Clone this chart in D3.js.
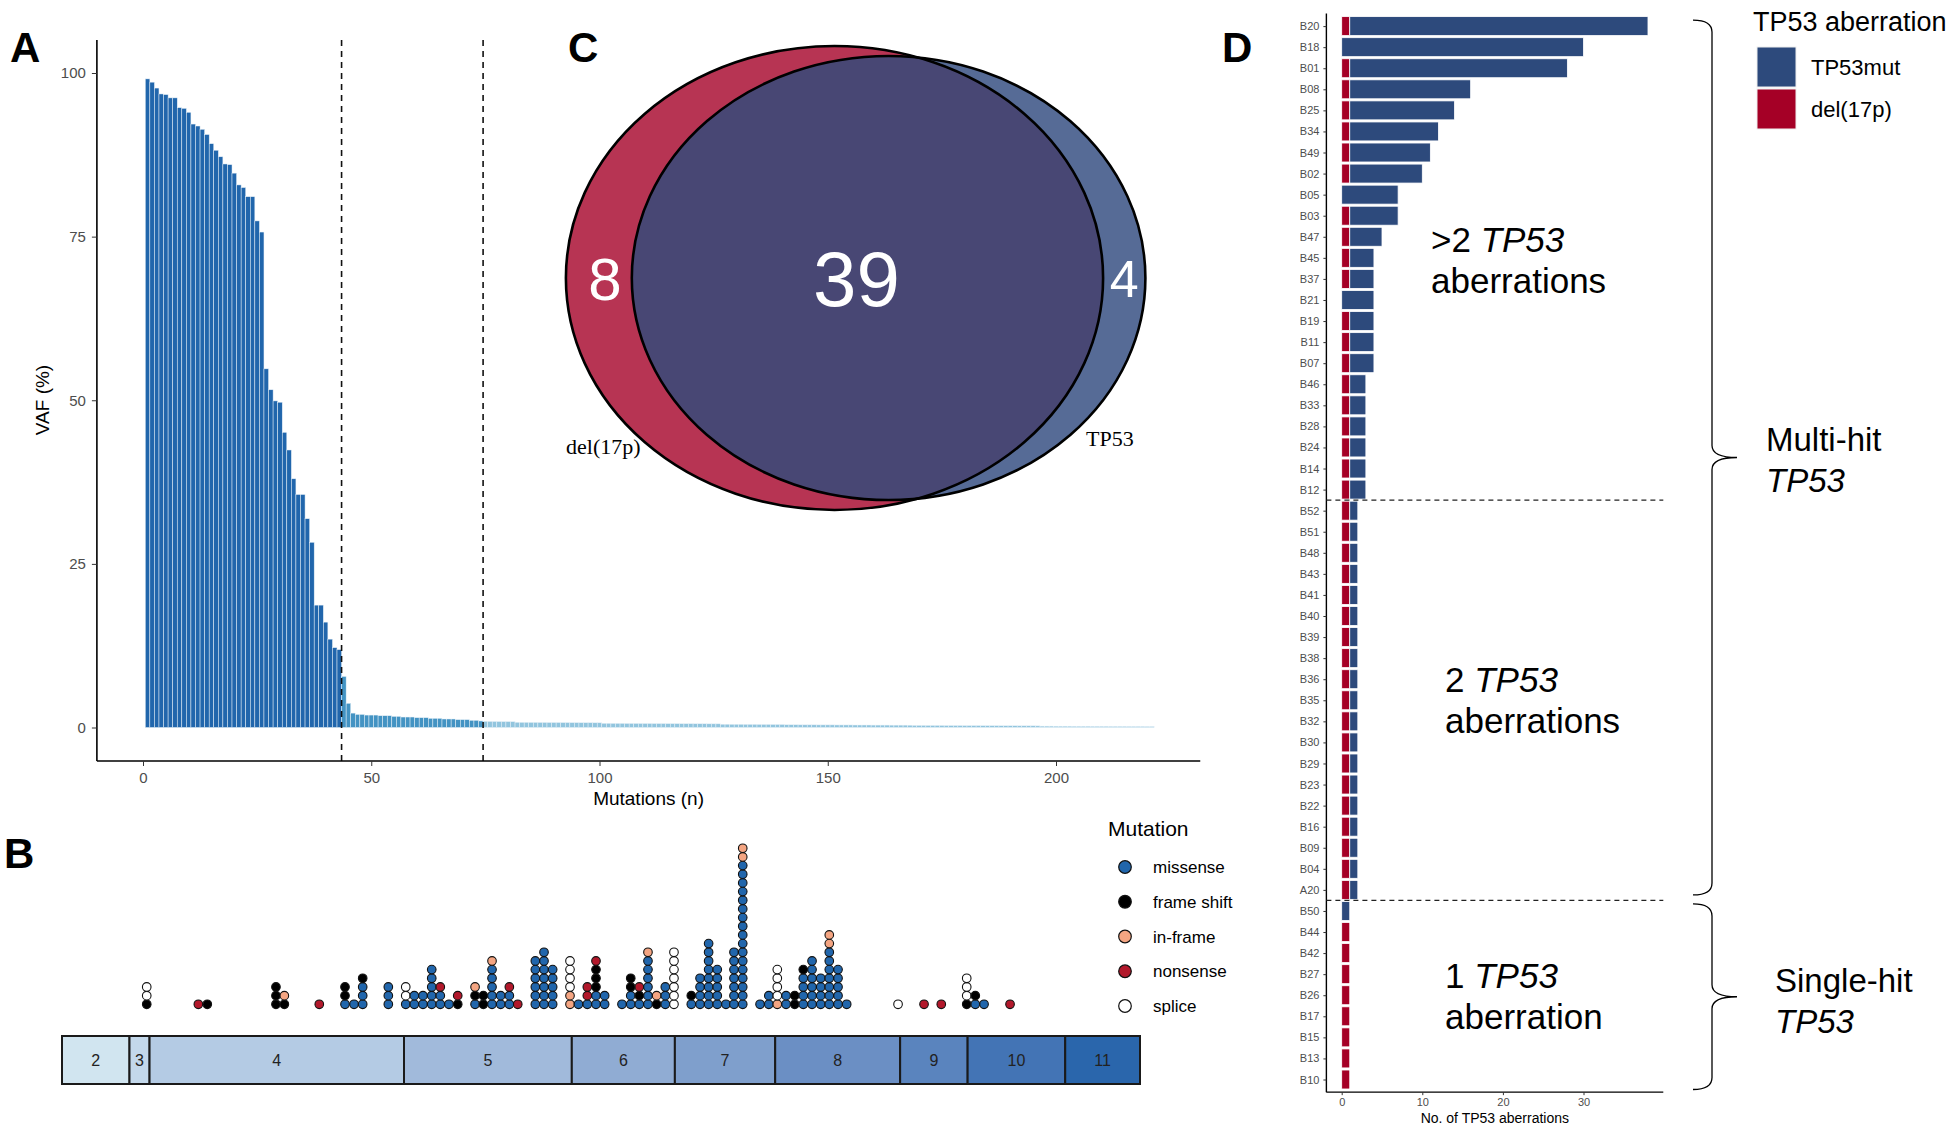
<!DOCTYPE html>
<html><head><meta charset="utf-8">
<script src="https://cdn.jsdelivr.net/npm/d3@7"></script>
<style>
body{margin:0;background:#fff}
svg{display:block;font-family:"Liberation Sans",Arial,Helvetica,sans-serif}
</style>
</head><body>
<svg id="c" width="1950" height="1126"></svg>
<script>
// ================= DATA =================
// Panel A: VAF (%) of each mutation, sorted descending, in three groups
const vafHigh = [99.1,98.6,97.7,96.8,96.7,96.2,96.2,94.7,94.6,94.0,92.2,91.9,91.4,90.6,89.2,88.2,87.2,86.1,86.0,84.7,82.9,82.5,81.1,81.1,77.4,75.7,
  54.8,51.6,49.9,49.7,45.1,42.4,38.0,35.6,35.6,31.9,28.3,18.7,18.7,16.1,13.5,12.2,11.9];
const vafMid = [7.8,3.7,2.2,2.0,2.0,1.9,1.9,1.9,1.8,1.8,1.8,1.7,1.7,1.6,1.6,1.6,1.5,1.5,1.5,1.4,1.4,1.4,1.3,1.3,1.3,1.2,1.2,1.2,1.1,1.1,1.0];
const vafLow = [0.95,0.93,0.92,0.91,0.90,0.90,0.89,
  0.80,0.79,0.79,0.78,0.78,0.77,0.77,0.76,0.76,0.76,0.75,0.75,0.74,0.74,0.73,0.73,0.73,0.72,0.72,
  0.64,0.64,0.63,0.63,0.63,0.62,0.62,0.62,0.61,0.61,0.61,0.60,0.60,0.60,0.59,0.59,0.59,0.58,0.58,0.58,0.57,0.57,0.57,0.56,0.56,0.56,
  0.50,0.50,0.49,0.49,0.49,0.48,0.48,0.48,0.47,0.47,0.47,0.46,0.46,0.46,
  0.42,0.42,0.42,0.41,0.41,0.41,0.41,0.40,0.40,0.40,0.40,0.39,0.39,0.39,0.39,0.38,0.38,0.38,0.38,0.37,0.37,0.37,0.37,0.36,0.36,0.36,0.36,0.35,
  0.32,0.32,0.32,0.31,0.31,0.31,0.31,0.30,0.30,0.30,0.30,0.29,0.29,0.29,0.29,0.28,0.28,0.28,0.28,0.27,0.27,0.27,0.27,0.26,0.26,0.26,0.26,0.25,
  0.21,0.21,0.21,0.20,0.20,0.20,0.20,0.19,0.19,0.19,0.19,0.18,0.18,0.18,0.18,0.17,0.17,0.17,0.17,0.16,0.16,0.16,0.16,0.15,0.15];
const vafTicks = [0,25,50,75,100];
const mutTicks = [0,50,100,150,200];
const vafCutoffs = [43.5,74.5];
const vafGroupColors = ["#2166ac","#4393c3","#92c5de"];

// Panel B: TP53 exons (cDNA coordinates) and mutation dot columns
const exonNames  = ["2","3","4","5","6","7","8","9","10","11"];
const exonStarts = [0,74,96,375,559,672,782,919,993,1100];
const exonEnds   = [74,96,375,559,672,782,919,993,1100,1182];
const exonColors = ["#d1e5f0","#c3d8eb","#b4cbe4","#a1badb","#90acd3","#7f9fcc","#6b8fc4","#5a84be","#4374b5","#2a66ac"];
const mutTypes  = ["missense","frame shift","in-frame","nonsense","splice"];
const mutCodes  = ["m","f","i","n","s"];
const mutColors = ["#2166ac","#000000","#f4a582","#b2182b","#ffffff"];
const dotPositions = [92.9,149.5,159.3,234.6,243.8,282.1,310.3,320.2,329.7,357.8,376.9,386.3,395.8,405.4,414.8,424.3,433.9,452.9,462,471.5,481,490.5,499.7,
  519,528.5,538,557,566.3,576,585.5,595,614,623.6,633,642.5,652,661.5,671,690,699.6,709,718.5,728,736.8,746.4,765.4,775,784.3,793.9,803.4,812.8,822.4,831.9,841.3,850.9,860.4,
  916.7,945.2,964.1,992,1001.4,1011,1039.5];
const dotStacks = ["fss","n","f","fff","fi","n","mff","m","mmmf","mmm","mss","mm","mm","mmmmm","mmn","m","fn","mfi","ff","mmmmmi","mm","mmn","n",
  "mmmmmm","mmmmmmm","mmmmm","iissss","m","mnn","mmfffn","mm","m","mmff","mfn","mmmmmmi","fi","mmm","sssssss","mf","mmmm","mmmmmmmm","mmmmm","m","mmmmmmm",
  "mmmmmmmmmmmmmmmmmii","m","mm","issss","mm","ff","mmmmf","mmmmmm","mmmm","mmmmmmmii","mmmmm","m",
  "s","n","n","fsss","mf","m","n"];

// Panel C: Venn counts
const vennSets = ["del(17p)","TP53"];
const vennCounts = [8,39,4]; // del only, both, TP53 only

// Panel D: patients and aberration counts
const patients = ["B20","B18","B01","B08","B25","B34","B49","B02","B05","B03","B47","B45","B37","B21","B19","B11","B07","B46","B33","B28","B24","B14","B12",
  "B52","B51","B48","B43","B41","B40","B39","B38","B36","B35","B32","B30","B29","B23","B22","B16","B09","B04","A20",
  "B50","B44","B42","B27","B26","B17","B15","B13","B10"];
const del17p  = [1,0,1,1,1,1,1,1,0,1,1,1,1,0,1,1,1,1,1,1,1,1,1,
  1,1,1,1,1,1,1,1,1,1,1,1,1,1,1,1,1,1,1,
  0,1,1,1,1,1,1,1,1];
const tp53mut = [37,30,27,15,13,11,10,9,7,6,4,3,3,4,3,3,3,2,2,2,2,2,2,
  1,1,1,1,1,1,1,1,1,1,1,1,1,1,1,1,1,1,1,
  1,0,0,0,0,0,0,0,0];
const abTicks = [0,10,20,30];
const abKeys = ["TP53mut","del(17p)"];
const abColors = ["#2d4a7c","#a50026"];
const groupBreaks = ["B12","A20"]; // last patient of a group

// ================= DRAW =================
const svg = d3.select("#c");
const tickGrey = "#4d4d4d";

// ---------- Panel A ----------
const xA = d3.scaleLinear().domain([0,200]).range([143,1056]);
const yA = d3.scaleLinear().domain([0,100]).range([727.5,73]);
const xLimA = [-10.1,231.6], yLimA = [-5.12,105.04];
const allVaf = vafHigh.concat(vafMid, vafLow);
const nHigh = vafHigh.length, nMid = vafMid.length;
const unitA = xA(1)-xA(0);
const gA = svg.append("g");
gA.selectAll("rect").data(allVaf).join("rect")
  .attr("x",(d,i)=>xA(i+1)-unitA/2).attr("width",unitA)
  .attr("y",d=>yA(d)).attr("height",d=>yA(0)-yA(d))
  .attr("fill",(d,i)=> i<nHigh ? vafGroupColors[0] : (i<nHigh+nMid ? vafGroupColors[1] : vafGroupColors[2]))
  .attr("stroke","#e8f1f8").attr("stroke-width",0.5);
gA.selectAll("line.cut").data(vafCutoffs).join("line").attr("class","cut")
  .attr("x1",d=>xA(d)).attr("x2",d=>xA(d)).attr("y1",yA(yLimA[1])).attr("y2",yA(yLimA[0]))
  .attr("stroke","#111").attr("stroke-width",1.6).attr("stroke-dasharray","6,5");
// axes
gA.append("line").attr("x1",xA(xLimA[0])).attr("x2",xA(xLimA[0])).attr("y1",yA(yLimA[1])).attr("y2",yA(yLimA[0]))
  .attr("stroke","#000").attr("stroke-width",1.6);
gA.append("line").attr("x1",xA(xLimA[0])).attr("x2",xA(xLimA[1])).attr("y1",yA(yLimA[0])).attr("y2",yA(yLimA[0]))
  .attr("stroke","#000").attr("stroke-width",1.6);
const axAy = gA.append("g").attr("transform",`translate(${xA(xLimA[0])},0)`)
  .call(d3.axisLeft(yA).tickValues(vafTicks).tickSize(5).tickPadding(6));
const axAx = gA.append("g").attr("transform",`translate(0,${yA(yLimA[0])})`)
  .call(d3.axisBottom(xA).tickValues(mutTicks).tickSize(5).tickPadding(6));
[axAy,axAx].forEach(a=>{a.select(".domain").remove();
  a.selectAll("text").attr("font-size",15).attr("fill",tickGrey).attr("font-family","Liberation Sans, Arial");
  a.selectAll("line").attr("stroke","#333");});
gA.append("text").attr("transform","translate(49,400) rotate(-90)").attr("text-anchor","middle")
  .attr("font-size",19).text("VAF (%)");
gA.append("text").attr("x",(xA(xLimA[0])+xA(xLimA[1]))/2).attr("y",805).attr("text-anchor","middle")
  .attr("font-size",19).text("Mutations (n)");

// ---------- Panel C (Venn) ----------
const gC = svg.append("g");
const ellDel = {cx:834.5, cy:278, rx:268.6, ry:232};
const ellTP  = {cx:888.6, cy:278, rx:256.8, ry:222};
const defs = svg.append("defs");
defs.append("clipPath").attr("id","clipDel").append("ellipse")
  .attr("cx",ellDel.cx).attr("cy",ellDel.cy).attr("rx",ellDel.rx).attr("ry",ellDel.ry);
gC.append("ellipse").attr("cx",ellDel.cx).attr("cy",ellDel.cy).attr("rx",ellDel.rx).attr("ry",ellDel.ry).attr("fill","#b73453");
gC.append("ellipse").attr("cx",ellTP.cx).attr("cy",ellTP.cy).attr("rx",ellTP.rx).attr("ry",ellTP.ry).attr("fill","#566b96");
gC.append("ellipse").attr("cx",ellTP.cx).attr("cy",ellTP.cy).attr("rx",ellTP.rx).attr("ry",ellTP.ry)
  .attr("fill","#484774").attr("clip-path","url(#clipDel)");
[ellDel,ellTP].forEach(e=>gC.append("ellipse").attr("cx",e.cx).attr("cy",e.cy).attr("rx",e.rx).attr("ry",e.ry)
  .attr("fill","none").attr("stroke","#000").attr("stroke-width",2.6));
const vennLabelX = [ (ellDel.cx-ellDel.rx + ellTP.cx-ellTP.rx)/2 + 6, (ellTP.cx-ellTP.rx + ellDel.cx+ellDel.rx)/2 - 11, (ellDel.cx+ellDel.rx + ellTP.cx+ellTP.rx)/2 ];
const vennSizes = [60,78,52];
gC.selectAll("text.cnt").data(vennCounts).join("text").attr("class","cnt")
  .attr("x",(d,i)=>vennLabelX[i]).attr("y",(d,i)=>ellDel.cy + vennSizes[i]*0.36)
  .attr("text-anchor","middle").attr("fill","#fff").attr("font-size",(d,i)=>vennSizes[i]).text(d=>d);
gC.append("text").attr("x",566).attr("y",454).attr("font-family","Liberation Serif, Times New Roman, serif")
  .attr("font-size",22).text(vennSets[0]);
gC.append("text").attr("x",1086).attr("y",446).attr("font-family","Liberation Serif, Times New Roman, serif")
  .attr("font-size",22).text(vennSets[1]);

// ---------- Panel B ----------
const xB = d3.scaleLinear().domain([0,1182]).range([62,1140]);
const yB = d3.scaleLinear().domain([0,1]).range([1004.3,995.63]);
const gB = svg.append("g");
const exons = exonNames.map((n,i)=>({n,s:exonStarts[i],e:exonEnds[i],c:exonColors[i]}));
gB.selectAll("rect.ex").data(exons).join("rect").attr("class","ex")
  .attr("x",d=>xB(d.s)).attr("width",d=>xB(d.e)-xB(d.s)).attr("y",1036).attr("height",48)
  .attr("fill",d=>d.c).attr("stroke","#1a1a1a").attr("stroke-width",2);
gB.selectAll("text.ex").data(exons).join("text").attr("class","ex")
  .attr("x",d=>(xB(d.s)+xB(d.e))/2).attr("y",1066).attr("text-anchor","middle")
  .attr("font-size",16).attr("fill","#222").text(d=>d.n);
const dots = [];
dotPositions.forEach((p,j)=>{ [...dotStacks[j]].forEach((ch,k)=>dots.push({p,k,t:mutCodes.indexOf(ch)})); });
gB.selectAll("circle.dot").data(dots).join("circle").attr("class","dot")
  .attr("cx",d=>xB(d.p)).attr("cy",d=>yB(d.k)).attr("r",4.3)
  .attr("fill",d=>mutColors[d.t]).attr("stroke","#111").attr("stroke-width",1.1);
// legend B
const gBL = svg.append("g");
gBL.append("text").attr("x",1108).attr("y",836).attr("font-size",21).text("Mutation");
const legYB = d3.scalePoint().domain(mutTypes).range([867,1006]);
gBL.selectAll("circle").data(mutTypes).join("circle")
  .attr("cx",1125).attr("cy",d=>legYB(d)).attr("r",6.3)
  .attr("fill",(d,i)=>mutColors[i]).attr("stroke","#111").attr("stroke-width",1.2);
gBL.selectAll("text.l").data(mutTypes).join("text").attr("class","l")
  .attr("x",1153).attr("y",d=>legYB(d)+6).attr("font-size",17).text(d=>d);

// ---------- Panel D ----------
const gD = svg.append("g");
const yD = d3.scalePoint().domain(patients).range([26.1,1079.5]);
const stepD = yD.step();
const xD = d3.scaleLinear().domain([0,30]).range([1341.7,1583.5]);
const xLimD = [-1.9,39.9];
const yTopD = yD(patients[0]) - 0.6*stepD, yBotD = yD(patients[patients.length-1]) + 0.6*stepD;
const barH = stepD*0.9;
const rowsD = patients.map((p,i)=>({p,del:del17p[i],mut:tp53mut[i]}));
gD.selectAll("rect.del").data(rowsD.filter(d=>d.del>0)).join("rect").attr("class","del")
  .attr("x",xD(0)).attr("width",d=>xD(d.del)-xD(0)).attr("y",d=>yD(d.p)-barH/2).attr("height",barH)
  .attr("fill",abColors[1]).attr("stroke","#ffffff").attr("stroke-width",0.8);
gD.selectAll("rect.mut").data(rowsD.filter(d=>d.mut>0)).join("rect").attr("class","mut")
  .attr("x",d=>xD(d.del)).attr("width",d=>xD(d.del+d.mut)-xD(d.del)).attr("y",d=>yD(d.p)-barH/2).attr("height",barH)
  .attr("fill",abColors[0]).attr("stroke","#ffffff").attr("stroke-width",0.8);
gD.append("line").attr("x1",xD(xLimD[0])).attr("x2",xD(xLimD[0])).attr("y1",yTopD).attr("y2",yBotD).attr("stroke","#000").attr("stroke-width",1.4);
gD.append("line").attr("x1",xD(xLimD[0])).attr("x2",xD(xLimD[1])).attr("y1",yBotD).attr("y2",yBotD).attr("stroke","#000").attr("stroke-width",1.4);
gD.selectAll("line.brk").data(groupBreaks).join("line").attr("class","brk")
  .attr("x1",xD(xLimD[0])).attr("x2",xD(xLimD[1])).attr("y1",d=>yD(d)+stepD/2).attr("y2",d=>yD(d)+stepD/2)
  .attr("stroke","#222").attr("stroke-width",1.1).attr("stroke-dasharray","5,4");
const axDy = gD.append("g").attr("transform",`translate(${xD(xLimD[0])},0)`).call(d3.axisLeft(yD).tickSize(3).tickPadding(4));
const axDx = gD.append("g").attr("transform",`translate(0,${yBotD})`).call(d3.axisBottom(xD).tickValues(abTicks).tickSize(3).tickPadding(3));
[axDy,axDx].forEach(a=>{a.select(".domain").remove();
  a.selectAll("text").attr("font-size",11).attr("fill",tickGrey).attr("font-family","Liberation Sans, Arial");
  a.selectAll("line").attr("stroke","#333");});
gD.append("text").attr("x",(xD(xLimD[0])+xD(xLimD[1]))/2).attr("y",1123).attr("text-anchor","middle")
  .attr("font-size",14).text("No. of TP53 aberrations");
// group annotations
function twoLine(x,y1,y2,pre,line2){
  const t = gD.append("text").attr("x",x).attr("y",y1).attr("font-size",35);
  t.append("tspan").text(pre);
  t.append("tspan").attr("font-style","italic").text("TP53");
  gD.append("text").attr("x",x).attr("y",y2).attr("font-size",35).text(line2);
}
twoLine(1431,252,293,">2 ","aberrations");
twoLine(1445,692,733,"2 ","aberrations");
twoLine(1445,988,1029,"1 ","aberration");
// braces
function brace(x0,xv,xt,y0,y1){
  const ym=(y0+y1)/2, r=12;
  return `M${x0},${y0} Q${xv},${y0} ${xv},${y0+r} L${xv},${ym-r} Q${xv},${ym} ${xt},${ym} Q${xv},${ym} ${xv},${ym+r} L${xv},${y1-r} Q${xv},${y1} ${x0},${y1}`;
}
const b1 = [yD(patients[0])-6, yD("A20")+5];
const b2 = [yD("B50")-7, yD(patients[patients.length-1])+10];
[b1,b2].forEach(b=>gD.append("path").attr("d",brace(1693,1712,1737,b[0],b[1])).attr("fill","none").attr("stroke","#000").attr("stroke-width",1.3));
gD.append("text").attr("x",1766).attr("y",(b1[0]+b1[1])/2-6).attr("font-size",33).text("Multi-hit");
gD.append("text").attr("x",1766).attr("y",(b1[0]+b1[1])/2+35).attr("font-size",33).attr("font-style","italic").text("TP53");
gD.append("text").attr("x",1775).attr("y",(b2[0]+b2[1])/2-5).attr("font-size",33).text("Single-hit");
gD.append("text").attr("x",1775).attr("y",(b2[0]+b2[1])/2+36).attr("font-size",33).attr("font-style","italic").text("TP53");
// legend D
const gDL = svg.append("g");
gDL.append("text").attr("x",1753).attr("y",31).attr("font-size",27).text("TP53 aberration");
gDL.selectAll("rect").data(abKeys).join("rect")
  .attr("x",1757).attr("y",(d,i)=>47+i*42).attr("width",39).attr("height",40)
  .attr("fill",(d,i)=>abColors[i]).attr("stroke","#eee").attr("stroke-width",1);
gDL.selectAll("text.k").data(abKeys).join("text").attr("class","k")
  .attr("x",1811).attr("y",(d,i)=>75+i*42).attr("font-size",22).text(d=>d);

// ---------- Panel labels ----------
const panelLabels = ["A","B","C","D"];
const panelPos = [[10,62],[4,868],[568,62],[1222,62]];
svg.selectAll("text.pl").data(panelLabels).join("text").attr("class","pl")
  .attr("x",(d,i)=>panelPos[i][0]).attr("y",(d,i)=>panelPos[i][1])
  .attr("font-size",42).attr("font-weight","bold").text(d=>d);
</script>
</body></html>
